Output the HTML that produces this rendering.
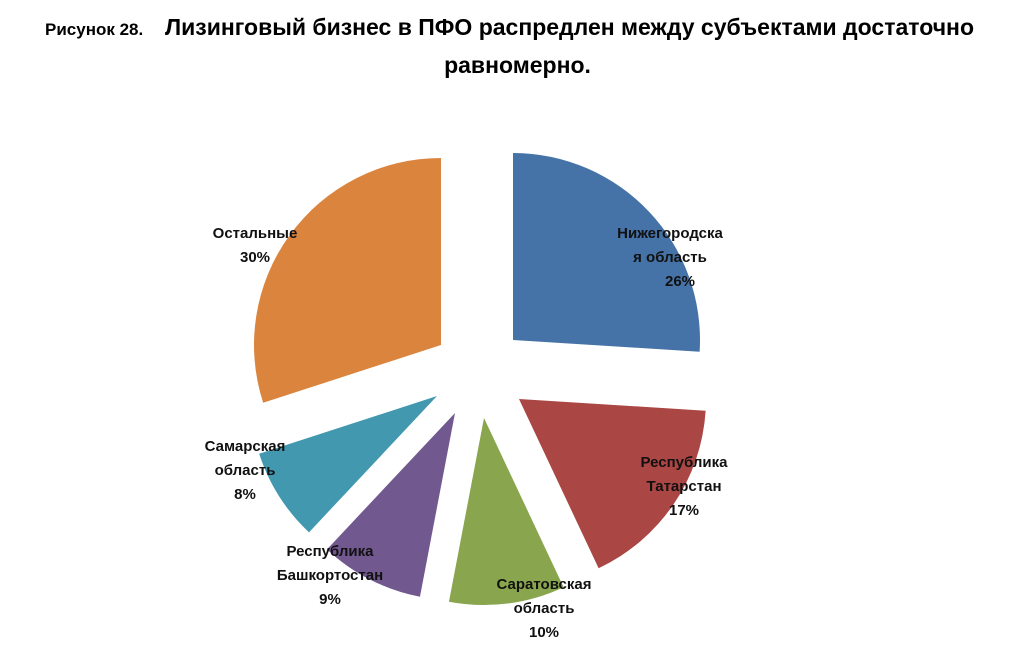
<!DOCTYPE html>
<html><head><meta charset="utf-8"><style>
body{margin:0;background:#fff;width:1025px;height:655px;overflow:hidden;font-family:"Liberation Sans","DejaVu Sans",sans-serif}
.t{position:absolute;font-weight:bold;color:#000}
svg text{font-family:"Liberation Sans","DejaVu Sans",sans-serif;font-weight:bold;font-size:15px;fill:#111}
</style></head><body>
<div class="t" style="left:45px;top:20px;font-size:17px">Рисунок 28.</div>
<div class="t" style="left:165px;top:14px;font-size:23px;width:850px">Лизинговый бизнес в ПФО распредлен между субъектами достаточно</div>
<div class="t" style="left:0;width:1025px;text-align:center;top:52px;font-size:23px;padding-left:10px;box-sizing:border-box">равномерно.</div>
<svg id="pie" width="1025" height="655" style="position:absolute;left:0;top:0"></svg>
<script>
const categories=["Нижегородская область","Республика Татарстан","Саратовская область","Республика Башкортостан","Самарская область","Остальные"];
const values=[26,17,10,9,8,30];
const labelLines=[["Нижегородска","я область"],["Республика","Татарстан"],["Саратовская","область"],["Республика","Башкортостан"],["Самарская","область"],["Остальные"]];
const colors=["#4572a7","#aa4643","#89a54e","#71588f","#4198af","#db843d"];
// layout: apex position of each exploded slice, and label anchors
const apexX=[513,519,484,455,437,441], apexY=[340,399,418,413,396,345];
const labX=[670,684,544,330,245,255], labY=[233,462,584,551,446,233];
const R=187;
const svg=document.getElementById('pie');
const NS='http://www.w3.org/2000/svg';
const total=values.reduce((a,b)=>a+b,0);
function ang(v){return v/total*2*Math.PI;}
function pt(cx,cy,a){return [cx+R*Math.sin(a),cy-R*Math.cos(a)];}
let acc=0;
values.forEach((v,i)=>{
  const a0=ang(acc),a1=ang(acc+v);acc+=v;
  const cx=apexX[i],cy=apexY[i];
  const p0=pt(cx,cy,a0),p1=pt(cx,cy,a1);
  const large=(a1-a0)>Math.PI?1:0;
  const p=document.createElementNS(NS,'path');
  p.setAttribute('d',`M${cx},${cy}L${p0[0]},${p0[1]}A${R},${R} 0 ${large} 1 ${p1[0]},${p1[1]}Z`);
  p.setAttribute('fill',colors[i]);
  
  
  svg.appendChild(p);
});
values.forEach((v,i)=>{
  const lines=labelLines[i].concat([v+'%']);
  const t=document.createElementNS(NS,'text');
  
  
  t.setAttribute('text-anchor','middle');
  lines.forEach((s,k)=>{
    const ts=document.createElementNS(NS,'tspan');
    ts.setAttribute('x',labX[i]+(i===0&&k===2?10:0));
    ts.setAttribute('y',labY[i]+5+k*24);
    ts.textContent=s;
    t.appendChild(ts);
  });
  svg.appendChild(t);
});
</script>
</body></html>
